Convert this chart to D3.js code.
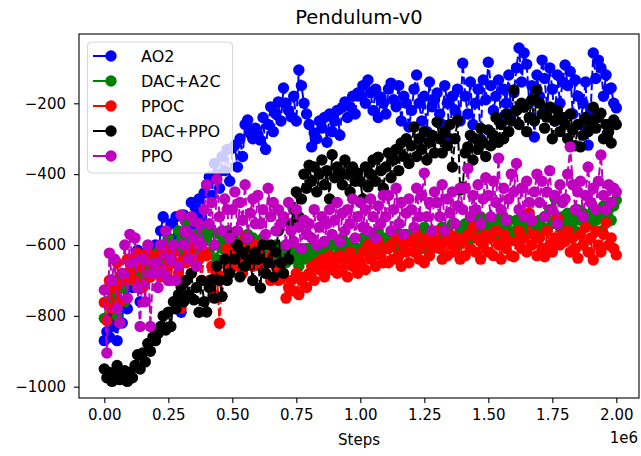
<!DOCTYPE html>
<html>
<head>
<meta charset="utf-8">
<script src="https://cdn.jsdelivr.net/npm/d3@7"></script>
<style>
body { margin: 0; background: #fff; }
svg { display: block; }
text { font-family: "DejaVu Sans", sans-serif; fill: #000; }
</style>
</head>
<body>
<svg id="chart" width="641" height="456"></svg>
<script>
const title = "Pendulum-v0";
const xLabel = "Steps";
const xOffsetLabel = "1e6";
const stepSize = 10000;
const xTicks = [0, 250000, 500000, 750000, 1000000, 1250000, 1500000, 1750000, 2000000];
const yTicks = [-1000, -800, -600, -400, -200];

const seriesNames = ["AO2", "DAC+A2C", "PPOC", "DAC+PPO", "PPO"];
const seriesColors = ["#0000ff", "#008000", "#ff0000", "#000000", "#bf00bf"];

const ao2 = [
  -870, -845, -860, -800, -830, -870, -760, -820, -700, -780,
  -640, -720, -690, -615, -760, -650, -700, -620, -680, -640,
  -600, -640, -560, -520, -610, -580, -540, -650, -520, -570,
  -790, -515, -600, -560, -480, -540, -500, -470, -520, -453,
  -430, -408, -460, -370, -400, -440, -350, -390, -330, -420,
  -327, -318, -380, -300, -350, -260, -247, -285, -300, -270,
  -290, -304, -240, -330, -260, -210, -280, -230, -196, -250,
  -157, -200, -220, -238, -180, -250, -106, -150, -200, -230,
  -260, -323, -284, -300, -250, -270, -240, -310, -230, -280,
  -250, -220, -290, -211, -196, -240, -210, -180, -230, -171,
  -180, -150, -200, -134, -170, -220, -160, -240, -182, -200,
  -230, -160, -143, -190, -210, -150, -250, -180, -200, -267,
  -220, -160, -120, -200, -250, -180, -280, -140, -210, -190,
  -171, -230, -260, -150, -200, -300, -180, -220, -160, -250,
  -87, -180, -230, -140, -260, -200, -160, -300, -134, -190,
  -84, -150, -220, -180, -134, -250, -160, -200, -120, -230,
  -170, -100, -44, -140, -58, -90, -200, -150, -295, -120,
  -180, -78, -130, -220, -100, -160, -250, -120, -200, -140,
  -92, -150, -110, -230, -134, -180, -260, -200, -140, -318,
  -220, -58, -130, -78, -100, -180, -120, -160, -157, -200,
  -213
];
const dacA2c = [
  -807, -760, -718, -780, -740, -800, -690, -720, -760, -680,
  -700, -660, -640, -720, -680, -650, -700, -620, -670, -640,
  -660, -620, -680, -600, -640, -580, -650, -620, -600, -560,
  -620, -580, -535, -600, -640, -570, -610, -590, -560, -620,
  -580, -620, -560, -600, -640, -570, -610, -590, -560, -620,
  -580, -600, -560, -620, -590, -640, -570, -610, -580, -600,
  -600, -640, -580, -620, -650, -610, -640, -600, -630, -660,
  -620, -650, -610, -640, -600, -630, -660, -620, -640, -610,
  -620, -640, -600, -630, -610, -650, -590, -620, -640, -600,
  -600, -630, -610, -580, -640, -600, -620, -590, -630, -610,
  -610, -580, -620, -590, -630, -570, -600, -560, -610, -580,
  -590, -610, -570, -600, -560, -620, -580, -600, -570, -590,
  -590, -560, -600, -570, -610, -550, -580, -600, -560, -590,
  -570, -600, -550, -580, -560, -590, -540, -580, -600, -560,
  -570, -540, -590, -560, -530, -580, -550, -520, -570, -540,
  -560, -530, -570, -540, -580, -520, -560, -550, -530, -570,
  -560, -530, -550, -510, -540, -570, -520, -540, -538, -560,
  -530, -550, -520, -560, -500, -540, -468, -530, -550, -520,
  -550, -510, -540, -520, -560, -500, -530, -510, -550, -520,
  -540, -500, -530, -510, -560, -490, -520, -500, -530, -490,
  -473
];
const ppoc = [
  -762, -813, -700, -780, -720, -650, -760, -680, -700, -640,
  -680, -640, -700, -623, -660, -720, -640, -620, -690, -650,
  -660, -630, -690, -610, -670, -640, -700, -620, -650, -680,
  -778, -640, -650, -620, -680, -600, -660, -640, -700, -620,
  -630, -700, -660, -740, -680, -821, -690, -640, -610, -660,
  -610, -660, -600, -640, -680, -580, -640, -620, -660, -600,
  -620, -660, -600, -680, -640, -700, -620, -660, -700, -680,
  -690, -750, -720, -700, -730, -680, -740, -700, -690, -720,
  -680, -660, -700, -650, -670, -640, -690, -660, -630, -670,
  -650, -680, -630, -670, -640, -690, -620, -660, -640, -680,
  -650, -620, -670, -600, -640, -610, -660, -590, -630, -650,
  -610, -650, -600, -640, -580, -630, -660, -600, -620, -650,
  -590, -620, -570, -640, -600, -650, -580, -630, -610, -590,
  -560, -610, -640, -590, -630, -570, -600, -620, -580, -640,
  -590, -630, -570, -610, -550, -620, -580, -640, -600, -570,
  -620, -580, -630, -560, -600, -640, -570, -610, -590, -630,
  -633, -590, -560, -610, -580, -620, -510, -600, -570, -630,
  -580, -610, -633, -560, -600, -620, -580, -524, -600, -570,
  -590, -560, -620, -580, -610, -637, -570, -600, -550, -620,
  -580, -642, -560, -600, -620, -570, -538, -600, -580, -610,
  -628
];
const dacPpo = [
  -950, -975, -960, -985, -965, -940, -980, -970, -955, -985,
  -960, -975, -940, -910, -950, -905, -930, -878, -900, -860,
  -870, -850, -830, -800, -840, -790, -830, -760, -780, -740,
  -718, -760, -700, -740, -680, -755, -720, -790, -700, -760,
  -789, -720, -698, -750, -660, -700, -745, -640, -700, -680,
  -567, -640, -600, -690, -620, -660, -580, -640, -700, -620,
  -640, -721, -600, -680, -650, -600, -690, -620, -560, -650,
  -680, -600, -640, -540, -500, -450, -520, -470, -400, -440,
  -375, -420, -380, -450, -400, -360, -430, -390, -470, -345,
  -410, -380, -397, -430, -360, -400, -450, -380, -420, -397,
  -420, -470, -380, -436, -400, -360, -420, -352, -390, -440,
  -380, -340, -410, -360, -330, -390, -312, -350, -300, -370,
  -320, -267, -350, -300, -330, -280, -360, -310, -290, -340,
  -253, -300, -340, -280, -320, -260, -380, -300, -247, -445,
  -436, -340, -323, -290, -360, -300, -330, -270, -310, -350,
  -275, -320, -290, -240, -310, -260, -300, -230, -280, -250,
  -162, -220, -260, -200, -211, -280, -240, -190, -250, -162,
  -200, -230, -270, -239, -210, -300, -250, -220, -280, -240,
  -260, -300, -230, -275, -320, -260, -323, -290, -240, -280,
  -250, -211, -270, -240, -228, -300, -260, -280, -312, -247,
  -260
];
const ppo = [
  -727, -905, -623, -700, -640, -780, -820, -680, -600, -750,
  -570, -650, -580, -720, -830, -640, -760, -600, -830, -680,
  -650, -720, -600, -680, -560, -700, -640, -600, -700, -660,
  -515, -600, -560, -640, -520, -580, -660, -540, -600, -500,
  -430, -540, -480, -600, -415, -520, -560, -470, -500, -580,
  -500, -450, -560, -480, -530, -430, -580, -510, -470, -540,
  -460, -540, -500, -570, -440, -520, -480, -560, -500, -540,
  -520, -600, -480, -560, -590, -500, -550, -610, -530, -570,
  -540, -580, -500, -600, -550, -520, -590, -540, -500, -570,
  -530, -480, -590, -510, -560, -500, -540, -470, -580, -520,
  -480, -550, -500, -560, -470, -520, -580, -490, -540, -460,
  -520, -460, -560, -500, -440, -540, -480, -570, -510, -470,
  -500, -550, -440, -520, -460, -397, -520, -480, -560, -450,
  -480, -520, -430, -560, -470, -510, -450, -540, -490, -440,
  -500, -440, -384, -520, -460, -500, -430, -540, -470, -410,
  -460, -520, -420, -480, -355, -500, -440, -530, -470, -400,
  -450, -370, -500, -440, -520, -420, -480, -530, -450, -400,
  -480, -420, -520, -450, -390, -500, -460, -540, -430, -480,
  -470, -400, -323, -430, -500, -450, -420, -520, -460, -380,
  -480, -440, -500, -420, -346, -460, -500, -430, -480, -440,
  -450
];
const seriesValues = [ao2, dacA2c, ppoc, dacPpo, ppo];

const svg = d3.select("#chart");
const W = 641, H = 456;
svg.append("rect").attr("width", W).attr("height", H).attr("fill", "#fff");

const box = { left: 79, right: 639, top: 34, bottom: 398 };

const x = d3.scaleLinear().domain([0, 2000000]).range([104.3, 616.3]);
const y = d3.scaleLinear().domain([-200, -1000]).range([103.3, 386.7]);

svg.append("defs").append("clipPath").attr("id", "clip")
  .append("rect").attr("x", box.left).attr("y", box.top)
  .attr("width", box.right - box.left).attr("height", box.bottom - box.top);

const plot = svg.append("g").attr("clip-path", "url(#clip)");

const line = d3.line().x((d, i) => x(i * stepSize)).y(d => y(d));

seriesValues.forEach((vals, k) => {
  const g = plot.append("g");
  g.append("path").datum(vals)
    .attr("d", line)
    .attr("fill", "none")
    .attr("stroke", seriesColors[k])
    .attr("stroke-width", 2)
    .attr("stroke-dasharray", "8,3.5");
  g.selectAll("circle").data(vals).enter().append("circle")
    .attr("cx", (d, i) => x(i * stepSize))
    .attr("cy", d => y(d))
    .attr("r", 5.7)
    .attr("fill", seriesColors[k]);
});

// axes
const fmtY = d => (d < 0 ? "\u2212" + Math.abs(d) : String(d));
const fmtX = d => (d / 1e6).toFixed(2);

const yAxis = d3.axisLeft(y).tickValues(yTicks).tickFormat(fmtY).tickSize(5).tickPadding(8);
const xAxis = d3.axisBottom(x).tickValues(xTicks).tickFormat(fmtX).tickSize(5).tickPadding(6);

const gy = svg.append("g").attr("transform", `translate(${box.left},0)`).call(yAxis);
const gx = svg.append("g").attr("transform", `translate(0,${box.bottom})`).call(xAxis);
[gx, gy].forEach(g => {
  g.select(".domain").remove();
  g.selectAll(".tick line").attr("stroke", "#000").attr("stroke-width", 1.1);
  g.selectAll(".tick text").attr("font-size", "15px").attr("font-family", "DejaVu Sans").attr("fill", "#000");
});

svg.append("rect")
  .attr("x", box.left).attr("y", box.top)
  .attr("width", box.right - box.left).attr("height", box.bottom - box.top)
  .attr("fill", "none").attr("stroke", "#000").attr("stroke-width", 1.1);

svg.append("text").attr("x", (box.left + box.right) / 2).attr("y", 24)
  .attr("text-anchor", "middle").attr("font-size", "19.5px").text(title);

svg.append("text").attr("x", (box.left + box.right) / 2).attr("y", 445)
  .attr("text-anchor", "middle").attr("font-size", "15px").text(xLabel);

svg.append("text").attr("x", box.right - 1).attr("y", 443)
  .attr("text-anchor", "end").attr("font-size", "15px").text(xOffsetLabel);

// legend
const lg = svg.append("g");
lg.append("rect").attr("x", 87.5).attr("y", 42).attr("width", 145).attr("height", 131)
  .attr("rx", 4).attr("fill", "#fff").attr("fill-opacity", 0.8)
  .attr("stroke", "#d6d6d6").attr("stroke-width", 1);
const rowY = d3.scaleLinear().domain([0, 4]).range([56, 156]);
seriesNames.forEach((name, k) => {
  const yy = rowY(k);
  lg.append("line").attr("x1", 93).attr("x2", 128).attr("y1", yy).attr("y2", yy)
    .attr("stroke", seriesColors[k]).attr("stroke-width", 2).attr("stroke-dasharray", "13,4,6");
  lg.append("circle").attr("cx", 111).attr("cy", yy).attr("r", 5.7).attr("fill", seriesColors[k]);
  lg.append("text").attr("x", 141).attr("y", yy + 5.5).attr("font-size", "16px").text(name);
});
</script>
</body>
</html>
